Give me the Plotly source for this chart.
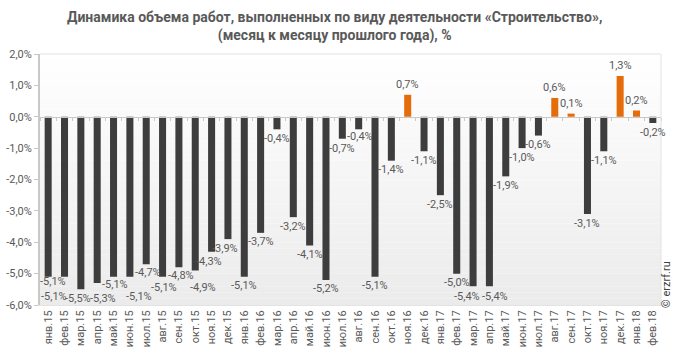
import plotly.graph_objects as go

months = ["янв.15", "фев.15", "мар.15", "апр.15", "май.15", "июн.15", "июл.15", "авг.15",
          "сен.15", "окт.15", "ноя.15", "дек.15", "янв.16", "фев.16", "мар.16", "апр.16",
          "май.16", "июн.16", "июл.16", "авг.16", "сен.16", "окт.16", "ноя.16", "дек.16",
          "янв.17", "фев.17", "мар.17", "апр.17", "май.17", "июн.17", "июл.17", "авг.17",
          "сен.17", "окт.17", "ноя.17", "дек.17", "янв.18", "фев.18"]
values = [-5.1, -5.1, -5.5, -5.3, -5.1, -5.1, -4.7, -5.1, -4.8, -4.9, -4.3, -3.9,
          -5.1, -3.7, -0.4, -3.2, -4.1, -5.2, -0.7, -0.4, -5.1, -1.4, 0.7, -1.1,
          -2.5, -5.0, -5.4, -5.4, -1.9, -1.0, -0.6, 0.6, 0.1, -3.1, -1.1, 1.3, 0.2, -0.2]
y_ticks = [2, 1, 0, -1, -2, -3, -4, -5, -6]

title = ("<b>Динамика объема работ, выполненных по виду деятельности «Строительство»,<br>"
         "(месяц к месяцу прошлого года), %</b>")

DARK = "#3d3d3d"
ORANGE = "#e46c0a"
TXT = "#595959"
FONT = "Roboto"

def fmt(v):
    return ("%.1f" % v).replace(".", ",") + "%"

colors = [ORANGE if v > 0 else DARK for v in values]

fig = go.Figure()
fig.add_trace(go.Bar(x=months, y=values, marker=dict(color=colors, line=dict(width=0)),
                     hoverinfo="x+y", showlegend=False))
# invisible trace to carry the zero-line axis with category ticks
fig.add_trace(go.Scatter(x=months, y=[0] * len(months), xaxis="x2", mode="markers",
                         marker=dict(opacity=0), hoverinfo="skip", showlegend=False))

# label nudges to avoid overlaps (dx px, extra dy px downward)
nudge = {0: (5, -4), 1: (-11, 11), 2: (-3, 0), 3: (6, 6), 4: (1, -1), 5: (9, 11),
         6: (2, -1), 7: (1, 2), 8: (2, -1), 9: (8, 8), 10: (-3, 1), 11: (-3, 0),
         18: (0, 1), 19: (1, -2),
         26: (-6, 1), 27: (6, 1)}
annotations = []
for i, (m, v) in enumerate(zip(months, values)):
    dx, dy = nudge.get(i, (0, 0))
    ys = 10 if v > 0 else -(9 + dy)
    annotations.append(dict(x=m, y=v, xref="x", yref="y", text=fmt(v), showarrow=False,
                            xshift=dx, yshift=ys, yanchor="middle",
                            font=dict(family=FONT, size=11, color=TXT)))
annotations.append(dict(x=1.0, y=0.08, xref="paper", yref="paper", xshift=6,
                        text="© erzrf.ru", textangle=-90, showarrow=False,
                        xanchor="center", yanchor="middle",
                        font=dict(family=FONT, size=11, color="#404040")))
annotations.append(dict(x=0.475, y=1.0, xref="paper", yref="paper", yshift=8,
                        text=title, showarrow=False, xanchor="center", yanchor="bottom",
                        align="center",
                        font=dict(family=FONT, size=14, color=TXT)))

# soft vertical gradient background
shapes = []
nb = 40
for k in range(nb):
    t = k / (nb - 1)
    g = int(round(255 - 20 * (1 - t)))
    shapes.append(dict(type="rect", xref="paper", yref="paper", x0=0, x1=1,
                       y0=k / nb, y1=(k + 1) / nb, line=dict(width=0),
                       fillcolor="rgb(%d,%d,%d)" % (g, g, g), layer="below"))
shapes.append(dict(type="line", xref="paper", yref="paper", x0=1, x1=1, y0=0, y1=1,
                   line=dict(color="#e3e3e3", width=1)))
shapes.append(dict(type="line", xref="paper", yref="paper", x0=0, x1=1, y0=1, y1=1,
                   line=dict(color="#e3e3e3", width=1)))

fig.update_layout(
    width=680, height=355,
    margin=dict(l=40, r=19, t=54, b=50),
    paper_bgcolor="white", plot_bgcolor="white",
    separators=", ",
    bargap=0.57,
    xaxis=dict(type="category", categoryorder="array", categoryarray=months,
               range=[-0.5, len(months) - 0.5], tickangle=-90, automargin=False,
               tickfont=dict(family=FONT, size=11, color=TXT),
               showline=True, linecolor="#e3e3e3", linewidth=1,
               showgrid=False, ticks="", zeroline=False),
    xaxis2=dict(type="category", categoryorder="array", categoryarray=months,
                range=[-0.5, len(months) - 0.5], overlaying="x", anchor="free",
                position=0.75, side="bottom", showline=True, linecolor="#c8c8c8",
                linewidth=1, ticks="outside", tickson="boundaries", ticklen=3,
                tickcolor="#c8c8c8", showticklabels=False, showgrid=False,
                automargin=False),
    yaxis=dict(range=[-6, 2], tickvals=y_ticks, ticktext=[fmt(v) for v in y_ticks],
               tickfont=dict(family=FONT, size=11, color=TXT), automargin=False,
               showline=True, linecolor="#c8c8c8", linewidth=2,
               ticks="outside", ticklen=4, tickcolor="#c8c8c8",
               showgrid=False, zeroline=False),
    annotations=annotations,
    shapes=shapes,
)

fig.write_html("out.html", config={"displayModeBar": False},
               post_script="document.body.style.margin='0';document.body.style.overflow='hidden';")
